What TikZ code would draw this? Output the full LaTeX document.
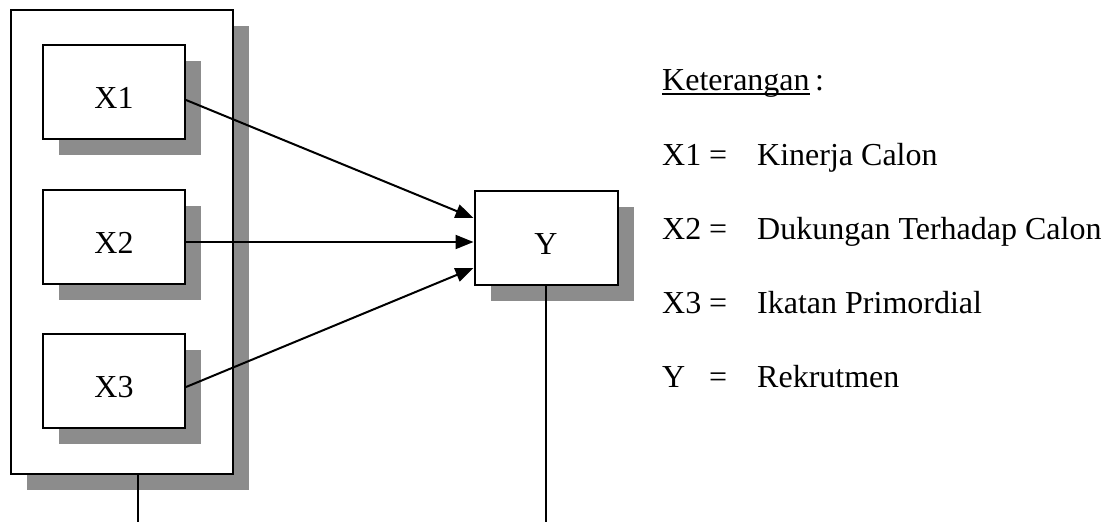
\documentclass[tikz,border=0pt]{standalone}
\usepackage{fontspec}
\setmainfont{Liberation Serif}
\usetikzlibrary{shadows,arrows.meta}
\definecolor{shgray}{HTML}{8C8C8C}
\begin{document}
\begin{tikzpicture}[x=1pt,y=-1pt,
  box/.style={draw=black, line width=2pt, fill=white, inner sep=0pt,
    text height=32pt, text depth=0pt,
    drop shadow={shadow xshift=16pt, shadow yshift=-16pt, fill=shgray, opacity=1}},
  inbox/.style={box, minimum width=142pt, minimum height=94pt},
  conn/.style={line width=2pt},
  arr/.style={conn, -{Triangle[length=18pt,width=14pt]}},
  lbl/.style={anchor=base west, inner sep=0pt},
  font=\fontsize{32}{38}\selectfont]
\useasboundingbox (0,0) rectangle (1116,522);

% boxes
\node[box, minimum width=222pt, minimum height=464pt] (outer) at (122,242) {};
\node[inbox] (X1) at (114,92) {X1};
\node[inbox] (X2) at (114,237) {X2};
\node[inbox] (X3) at (114,381) {X3};
\node[box, minimum width=143pt, minimum height=94pt] (Y) at (546,238) {Y};

% connectors
\draw[arr] ([yshift=-8pt]X1.east) -- ([yshift=20pt]Y.west);
\draw[arr] ([yshift=-5pt]X2.east) -- ([yshift=-4pt]Y.west);
\draw[arr] ([yshift=-6pt]X3.east) -- ([yshift=-30pt]Y.west);

\coordinate (b1) at (138,522);
\coordinate (b2) at (546,522);
\draw[conn] ([xshift=16pt]outer.south) -- (b1);
\draw[conn] (Y.south) -- (b2);

% legend
\node[lbl] (ket) at (662,90) {Keterangan};
\node[lbl] (colon) at (815,90) {:};
\draw[line width=1.6pt] ([yshift=-4pt]ket.base west) -- ([yshift=-4pt]ket.base east);

\node[lbl] (l1a) at (662,165) {X1};
\node[lbl] (l1b) at (709,165) {=};
\node[lbl] (l1c) at (757,165) {Kinerja Calon};

\node[lbl] (l2a) at (662,239) {X2};
\node[lbl] (l2b) at (709,239) {=};
\node[lbl] (l2c) at (757,239) {Dukungan Terhadap Calon};

\node[lbl] (l3a) at (662,313) {X3};
\node[lbl] (l3b) at (709,313) {=};
\node[lbl] (l3c) at (757,313) {Ikatan Primordial};

\node[lbl] (l4a) at (662,387) {Y};
\node[lbl] (l4b) at (709,387) {=};
\node[lbl] (l4c) at (757,387) {Rekrutmen};
\end{tikzpicture}
\end{document}
